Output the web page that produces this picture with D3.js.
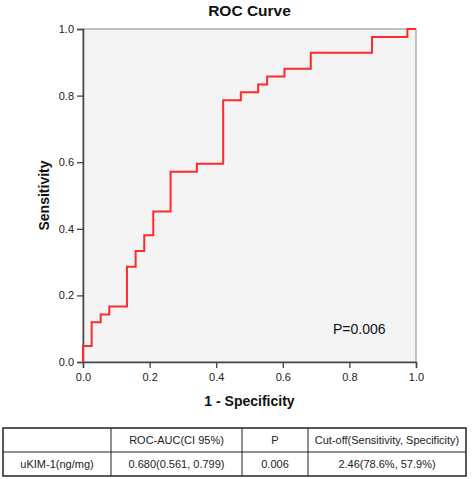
<!DOCTYPE html>
<html>
<head>
<meta charset="utf-8">
<script src="https://cdn.jsdelivr.net/npm/d3@7"></script>
<style>
  html, body { margin: 0; padding: 0; background: #fff; }
  svg { display: block; font-family: "Liberation Sans", Arial, sans-serif; }
</style>
</head>
<body>
<svg id="chart" width="472" height="479"></svg>
<script>
// ROC curve corner points (1 - specificity, sensitivity)
const fpr = [0, 0, 0.026, 0.026, 0.053, 0.053, 0.079, 0.079, 0.132, 0.132, 0.158, 0.158,
  0.184, 0.184, 0.211, 0.211, 0.263, 0.263, 0.342, 0.342, 0.421, 0.421, 0.474, 0.474,
  0.526, 0.526, 0.553, 0.553, 0.605, 0.605, 0.684, 0.684, 0.868, 0.868, 0.974, 0.974, 1];
const tpr = [0, 0.048, 0.048, 0.119, 0.119, 0.143, 0.143, 0.167, 0.167, 0.286, 0.286, 0.333,
  0.333, 0.381, 0.381, 0.452, 0.452, 0.571, 0.571, 0.595, 0.595, 0.786, 0.786, 0.810,
  0.810, 0.833, 0.833, 0.857, 0.857, 0.881, 0.881, 0.929, 0.929, 0.976, 0.976, 1, 1];
const ticks = [0, 0.2, 0.4, 0.6, 0.8, 1.0];
const title = "ROC Curve";
const xLabel = "1 - Specificity";
const yLabel = "Sensitivity";
const pText = "P=0.006";
const tableHeader = ["", "ROC-AUC(CI 95%)", "P", "Cut-off(Sensitivity, Specificity)"];
const tableRow = ["uKIM-1(ng/mg)", "0.680(0.561, 0.799)", "0.006", "2.46(78.6%, 57.9%)"];

const svg = d3.select("#chart");
const L = 83, R = 416, T = 29, B = 362;
const x = d3.scaleLinear().domain([0, 1]).range([L, R]);
const y = d3.scaleLinear().domain([0, 1]).range([B, T]);

// plot background
svg.append("rect").attr("x", L).attr("y", T).attr("width", R - L).attr("height", B - T)
  .attr("fill", "#f4f4f4").attr("stroke", "#8a8a8a").attr("stroke-width", 1);

// axes
const fmt = d3.format(".1f");
const xAxis = svg.append("g").attr("transform", `translate(0,${B})`)
  .call(d3.axisBottom(x).tickValues(ticks).tickFormat(fmt).tickSize(6).tickPadding(5));
const yAxis = svg.append("g").attr("transform", `translate(${L},0)`)
  .call(d3.axisLeft(y).tickValues(ticks).tickFormat(fmt).tickSize(6).tickPadding(3));
[xAxis, yAxis].forEach(g => {
  g.select(".domain").attr("stroke", "#444").attr("stroke-width", 1.5);
  g.selectAll(".tick line").attr("stroke", "#444").attr("stroke-width", 1.3);
  g.selectAll(".tick text").attr("fill", "#222").style("font-size", "11px")
    .style("font-family", "'Liberation Sans', Arial, sans-serif");
});

// ROC line
const pts = fpr.map((v, i) => [v, tpr[i]]);
svg.append("path").datum(pts)
  .attr("d", d3.line().x(d => x(d[0])).y(d => y(d[1])))
  .attr("fill", "none").attr("stroke", "#ff2a2a").attr("stroke-width", 2);

// title and labels
svg.append("text").attr("x", (L + R) / 2).attr("y", 16).attr("text-anchor", "middle")
  .style("font-size", "15.5px").style("font-weight", "bold").attr("fill", "#111").text(title);
svg.append("text").attr("x", (L + R) / 2).attr("y", 406).attr("text-anchor", "middle")
  .style("font-size", "14px").style("font-weight", "bold").attr("fill", "#111").text(xLabel);
svg.append("text").attr("transform", `translate(49,${(T + B) / 2}) rotate(-90)`)
  .attr("text-anchor", "middle")
  .style("font-size", "14px").style("font-weight", "bold").attr("fill", "#111").text(yLabel);
svg.append("text").attr("x", 333).attr("y", 334)
  .style("font-size", "14px").attr("fill", "#111").text(pText);

// table
const colX = [3, 111, 242, 308, 466];
const rowY = [428, 452, 476];
const tg = svg.append("g");
tg.append("rect").attr("x", colX[0]).attr("y", rowY[0])
  .attr("width", colX[4] - colX[0]).attr("height", rowY[2] - rowY[0])
  .attr("fill", "none").attr("stroke", "#222").attr("stroke-width", 1.5);
tg.append("line").attr("x1", colX[0]).attr("x2", colX[4]).attr("y1", rowY[1]).attr("y2", rowY[1])
  .attr("stroke", "#222").attr("stroke-width", 1.2);
colX.slice(1, 4).forEach(cx => {
  tg.append("line").attr("x1", cx).attr("x2", cx).attr("y1", rowY[0]).attr("y2", rowY[2])
    .attr("stroke", "#222").attr("stroke-width", 1);
});
[tableHeader, tableRow].forEach((row, r) => {
  row.forEach((t, c) => {
    tg.append("text").attr("x", (colX[c] + colX[c + 1]) / 2)
      .attr("y", (rowY[r] + rowY[r + 1]) / 2 + 4)
      .attr("text-anchor", "middle").style("font-size", "11px").attr("fill", "#222").text(t);
  });
});
</script>
</body>
</html>
